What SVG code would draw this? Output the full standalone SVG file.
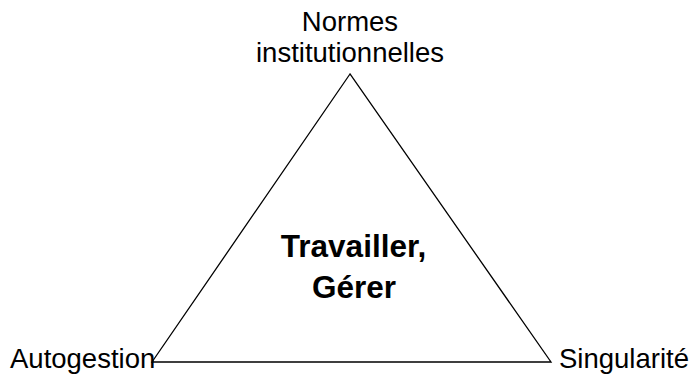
<svg xmlns="http://www.w3.org/2000/svg" width="689" height="380" viewBox="0 0 689 380">
  <style>
    .lbl { font-family: "Liberation Sans", Arial, sans-serif; font-size: 27.5px; fill: #000; }
    .core { font-family: "Liberation Sans", Arial, sans-serif; font-size: 31.5px; font-weight: bold; fill: #000; text-anchor: middle; }
    .edge { fill: none; stroke: #000; stroke-width: 1.3; }
  </style>
  <rect width="689" height="380" fill="#fff"/>
  <g id="connectors">
    <polygon class="edge" points="350,74 152,362 551,362"/>
  </g>
  <g id="normes">
    <text class="lbl" x="350" y="31" text-anchor="middle">Normes</text>
    <text class="lbl" x="350" y="62" text-anchor="middle">institutionnelles</text>
  </g>
  <g id="autogestion">
    <text class="lbl" x="10" y="368">Autogestion</text>
  </g>
  <g id="singularite">
    <text class="lbl" x="559" y="368">Singularité</text>
  </g>
  <g id="centre">
    <text class="core" x="353.5" y="257">Travailler,</text>
    <text class="core" x="354" y="298">Gérer</text>
  </g>
</svg>
